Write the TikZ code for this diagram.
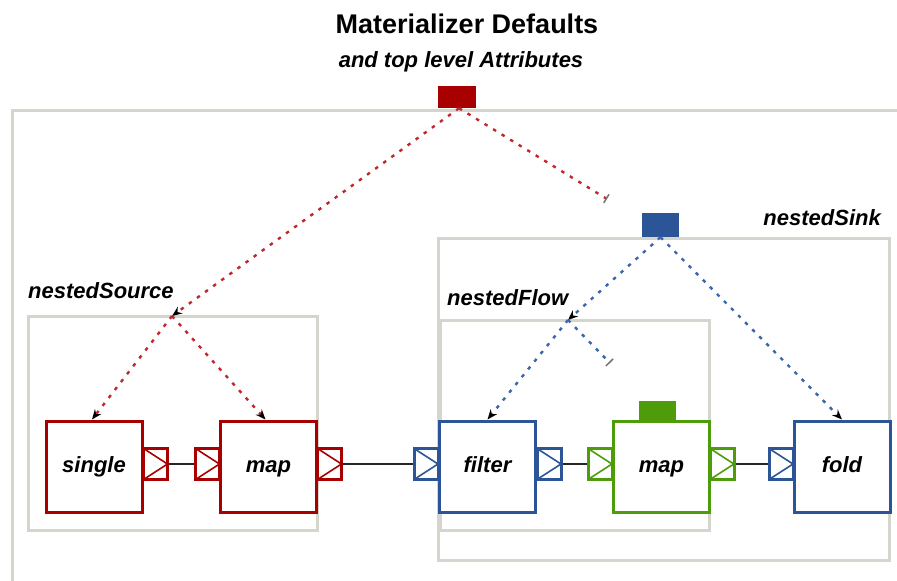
\documentclass[tikz,border=0pt]{standalone}
\usepackage{fontspec}
\setmainfont{Liberation Sans}
\usetikzlibrary{arrows.meta}
\definecolor{cred}{HTML}{A80000}
\definecolor{cblue}{HTML}{2B5596}
\definecolor{cgreen}{HTML}{4E9C0A}
\definecolor{cgray}{HTML}{D5D5CE}
\definecolor{dred}{HTML}{C2272D}
\definecolor{dblue}{HTML}{3A66AA}
\tikzset{
  lbl/.style={font=\fontsize{22}{26}\selectfont\bfseries\itshape, inner sep=0pt},
  opbox/.style={draw=#1, line width=3pt, fill=white, minimum width=96pt, minimum height=91pt, inner sep=0pt, text height=16pt, text depth=5pt, font=\fontsize{22}{26}\selectfont\bfseries\itshape},
  port/.style={draw=#1, line width=3pt, fill=white, minimum width=24pt, minimum height=31pt, inner sep=0pt,
    path picture={\draw[#1, line width=1.6pt] (path picture bounding box.north west) -- (path picture bounding box.east) -- (path picture bounding box.south west);}},
  grp/.style={draw=cgray, line width=3pt},
  attr/.style={fill=#1, inner sep=0pt},
  wire/.style={draw=black!85, line width=1.5pt},
  dots/.style={draw=#1, line width=2.4pt, dash pattern=on 3.5pt off 6.5pt},
  tip/.style={-{Stealth[length=10pt,width=8pt,color=black]}},
  tick/.style={-{Bar[width=10pt,line width=1.5pt,color=black!55]}},
}
\begin{document}
\begin{tikzpicture}[x=1pt,y=-1pt]
\useasboundingbox (0,0) rectangle (897,581);
% titles
\node[inner sep=0pt, font=\fontsize{27}{30}\selectfont\bfseries] (title) at (467,24) {Materializer Defaults};
\node[inner sep=0pt, font=\fontsize{22}{26}\selectfont\bfseries\itshape] (sub) at (461,62) {and top level Attributes};
% groups
\draw[grp] (12,581) -- (12,110) -- (897,110);
\draw[grp] (28,316) rectangle (317,530);
\draw[grp] (438,238) rectangle (889,560);
\draw[grp] (440,320) rectangle (709,530);
\node[lbl, anchor=west] (lsrc) at (28,291) {nestedSource};
\node[lbl, anchor=west] (lflow) at (447,298) {nestedFlow};
\node[lbl, anchor=east] (lsink) at (881,218) {nestedSink};
% attribute squares
\node[attr=cred, minimum width=38pt, minimum height=22pt] (rsq) at (457,97) {};
\node[attr=cblue, minimum width=37pt, minimum height=24pt] (bsq) at (660.5,225) {};
% operator boxes
\node[opbox=cred] (single) at (94,466.5) {single};
\node[opbox=cred] (mapr) at (268.5,466.5) {map};
\node[opbox=cblue] (filter) at (487.5,466.5) {filter};
\node[opbox=cgreen] (mapg) at (661.5,466.5) {map};
\node[opbox=cblue] (fold) at (842,466.5) {fold};
\node[attr=cgreen, minimum width=37pt, minimum height=20pt] (gsq) at (657.5,410.5) {};
% ports
\node[port=cred] (p1) at (155.5,464) {};
\node[port=cred] (p2) at (207.5,464) {};
\node[port=cred] (p3) at (329.5,464) {};
\node[port=cblue] (p4) at (426,464) {};
\node[port=cblue] (p5) at (549,464) {};
\node[port=cgreen] (p6) at (600,464) {};
\node[port=cgreen] (p7) at (722,464) {};
\node[port=cblue] (p8) at (781,464) {};
% wires
\draw[wire] (p1.east) -- (p2.west);
\draw[wire] (p3.east) -- (p4.west);
\draw[wire] (p5.east) -- (p6.west);
\draw[wire] (p7.east) -- (p8.west);
% attribute propagation
\coordinate (srcj) at (172,316);
\coordinate (rend) at (607,199);
\coordinate (flowj) at (568,320);
\coordinate (bend) at (610,363);
\draw[dots=dred, tip] ([xshift=2pt]rsq.south) -- (srcj);
\draw[dots=dred, tick] ([xshift=2pt]rsq.south) -- (rend);
\draw[dots=dred, tip] (srcj) -- ([xshift=-2pt]single.north);
\draw[dots=dred, tip] (srcj) -- ([xshift=-3pt]mapr.north);
\draw[dots=dblue, tip] (bsq.south) -- (flowj);
\draw[dots=dblue, tip] (bsq.south) -- (fold.north);
\draw[dots=dblue, tip] (flowj) -- (filter.north);
\draw[dots=dblue, tick] (flowj) -- (bend);
\end{tikzpicture}
\end{document}
